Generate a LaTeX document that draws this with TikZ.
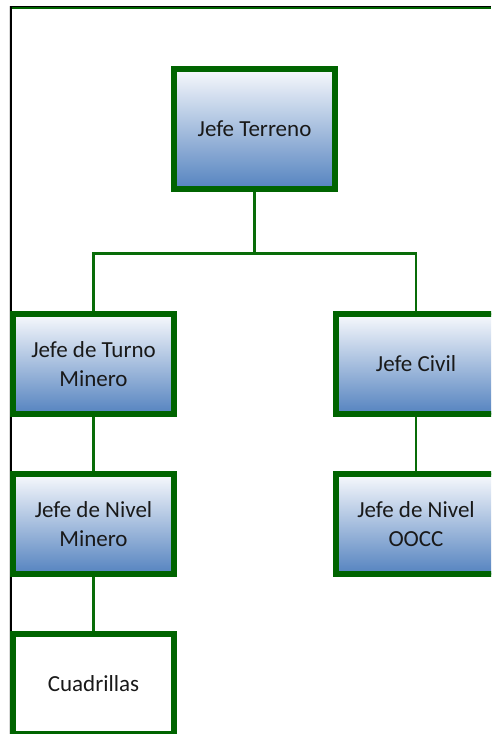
\documentclass[tikz,border=0pt]{standalone}
\usepackage{fontspec}
\setmainfont{Carlito}
\definecolor{boxgreen}{RGB}{0,100,0}
\definecolor{linkgreen}{RGB}{8,108,8}
\definecolor{shadetop}{RGB}{246,248,252}
\definecolor{shadebottom}{RGB}{86,132,192}
\begin{document}
\begin{tikzpicture}[x=1pt,y=-1pt,
  orgbox/.style={draw=boxgreen, line width=4pt, minimum width=159pt, minimum height=98pt,
    inner sep=0pt, align=center, font=\fontsize{23}{29}\selectfont, text=black!90},
  shaded/.style={orgbox, shading=axis, top color=shadetop, bottom color=shadebottom},
  plain/.style={orgbox, fill=white},
  link/.style={draw=linkgreen, line width=2.5pt}]
\useasboundingbox (0,0) rectangle (491,734);
\clip (0,0) rectangle (491,734);
\fill[white] (0,0) rectangle (491,734);

% page frame
\draw[black, line width=1pt] (10,6.5) -- (491,6.5);
\draw[boxgreen, line width=2.3pt] (10,8.2) -- (491,8.2);
\draw[black!15, line width=1pt] (9,6) -- (9,734);
\draw[black, line width=1.6pt] (10.8,6) -- (10.8,734);

% boxes
\node[shaded, minimum height=118pt] (terreno) at (254.5,129) {Jefe Terreno};
\node[shaded] (turno) at (93.5,364) {Jefe de Turno\\Minero};
\node[shaded] (civil) at (416,364) {Jefe Civil};
\node[shaded] (nivelmin) at (93.5,524) {Jefe de Nivel\\Minero};
\node[shaded] (niveloocc) at (416,524) {Jefe de Nivel\\OOCC};
\node[plain] (cuadrillas) at (93.5,684) {Cuadrillas};

% connectors
\coordinate (split) at (254.5,253.5);
\draw[link] (terreno.south) -- (split);
\draw[link] (split) -| (turno.north);
\draw[link] (split) -| (civil.north);
\draw[link] (turno.south) -- (nivelmin.north);
\draw[link] (nivelmin.south) -- (cuadrillas.north);
\draw[link] (civil.south) -- (niveloocc.north);

% redraw box outlines over connector ends
\foreach \n in {terreno,turno,civil,nivelmin,niveloocc,cuadrillas}
  \draw[boxgreen, line width=4pt] (\n.north west) rectangle (\n.south east);
\end{tikzpicture}
\end{document}
